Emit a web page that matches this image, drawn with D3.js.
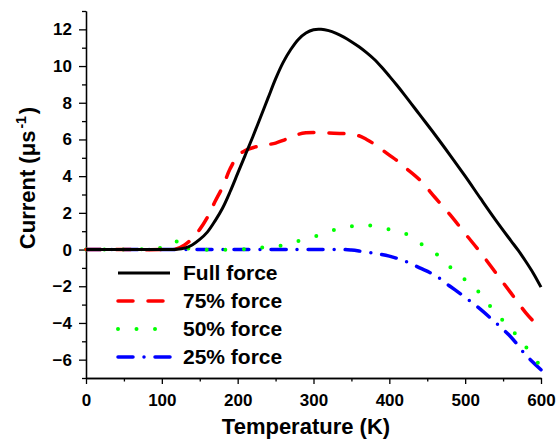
<!DOCTYPE html>
<html>
<head>
<meta charset="utf-8">
<script src="https://cdn.jsdelivr.net/npm/d3@7"></script>
<style>
    body { margin: 0; background: #fff; }
    text { font-family: "Liberation Sans", Arial, sans-serif; font-weight: bold; fill: #000; }
    .axis path, .axis line { stroke: #000; stroke-width: 1.3; }
    .axis text { font-size: 17px; }
</style>
</head>
<body>
<script>
(function () {

    //data: [temperature K, current]
    var fullForce = [[0, 0], [50, 0], [100, 0], [120, 0.02], [130, 0.08], [140, 0.25], [150, 0.55],
        [160, 0.95], [170, 1.55], [180, 2.25], [190, 3.15], [200, 4.15], [210, 5.15], [220, 6.15],
        [230, 7.2], [240, 8.25], [250, 9.3], [260, 10.2], [270, 10.9], [280, 11.45], [290, 11.8],
        [300, 11.98], [310, 12.0], [320, 11.93], [330, 11.78], [340, 11.58], [350, 11.33], [360, 11.05],
        [370, 10.73], [380, 10.37], [390, 9.93], [400, 9.45], [410, 8.95], [420, 8.43], [440, 7.35],
        [460, 6.27], [480, 5.15], [500, 4.0], [520, 2.8], [540, 1.62], [560, 0.5], [570, -0.05],
        [580, -0.65], [590, -1.3], [600, -2.05]];

    var force75 = [[0, 0], [50, 0], [100, 0], [120, 0.05], [130, 0.25], [140, 0.6], [150, 1.1],
        [160, 1.75], [170, 2.6], [180, 3.4], [190, 4.4], [200, 5.1], [210, 5.4], [220, 5.55],
        [230, 5.65], [240, 5.72], [250, 5.8], [260, 5.95], [270, 6.12], [280, 6.28], [290, 6.36],
        [300, 6.38], [320, 6.35], [340, 6.32], [360, 6.2], [370, 6.0], [380, 5.75], [390, 5.45],
        [400, 5.15], [410, 4.85], [420, 4.5], [440, 3.8], [460, 2.85], [480, 1.9], [500, 0.87],
        [520, -0.15], [540, -1.25], [560, -2.35], [580, -3.45], [600, -4.35]];

    var force50 = [[0, 0], [80, 0.02], [100, 0.1], [110, 0.15], [120, 0.45], [125, 0.6], [130, 0.15],
        [140, 0.02], [150, 0], [200, 0], [230, 0.1], [255, 0.2], [280, 0.47], [305, 0.75],
        [330, 1.1], [350, 1.27], [365, 1.32], [380, 1.28], [400, 1.1], [420, 0.9], [440, 0.35],
        [460, -0.17], [480, -0.95], [500, -1.65], [520, -2.4], [540, -3.45], [560, -4.3],
        [580, -5.3], [600, -6.4]];

    var force25 = [[0, 0], [100, 0], [200, 0], [300, 0], [340, 0], [350, -0.03], [360, -0.08],
        [380, -0.2], [400, -0.36], [420, -0.62], [440, -1.0], [460, -1.4], [480, -2.0],
        [500, -2.6], [520, -3.25], [540, -3.98], [560, -4.75], [580, -5.75], [600, -6.55]];

    var seriesNames = ["Full force", "75% force", "50% force", "25% force"];
    var xTicks = [0, 100, 200, 300, 400, 500, 600];
    var yTicks = [-6, -4, -2, 0, 2, 4, 6, 8, 10, 12];

    //line styles for each series
    var styles = [
        { color: "#000000", width: 3, dash: null, cap: "butt" },
        { color: "#ff0000", width: 3.5, dash: "15,15", cap: "round" },
        { color: "#00ff00", width: 4, dash: "0,18.5", cap: "round" },
        { color: "#0000ff", width: 3.5, dash: "15,11,0,11", cap: "round" }
    ];
    var allSeries = [fullForce, force75, force50, force25];

    var width = 556,
        height = 445;

    var svg = d3.select("body")
        .append("svg")
        .attr("width", width)
        .attr("height", height);

    var x = d3.scaleLinear()
        .domain([0, 600])
        .range([86, 541]);

    var y = d3.scaleLinear()
        .domain([-7, 13])
        .range([378, 11]);

    //minor ticks first, no labels
    svg.append("g")
        .attr("class", "axis")
        .attr("transform", "translate(0,378)")
        .call(d3.axisBottom(x).tickValues(d3.range(50, 600, 100)).tickSize(3.5).tickSizeOuter(0).tickFormat(""));

    svg.append("g")
        .attr("class", "axis")
        .attr("transform", "translate(86,0)")
        .call(d3.axisLeft(y).tickValues(d3.range(-7, 14, 2)).tickSize(4).tickSizeOuter(0).tickFormat(""));

    //major ticks
    svg.append("g")
        .attr("class", "axis")
        .attr("transform", "translate(0,378)")
        .call(d3.axisBottom(x).tickValues(xTicks).tickSize(6).tickSizeOuter(0).tickPadding(10));

    svg.append("g")
        .attr("class", "axis")
        .attr("transform", "translate(86,0)")
        .call(d3.axisLeft(y).tickValues(yTicks).tickSize(7).tickSizeOuter(0).tickPadding(7));

    //axis titles
    svg.append("text")
        .attr("x", 306)
        .attr("y", 434)
        .attr("text-anchor", "middle")
        .style("font-size", "22px")
        .text("Temperature (K)");

    var yTitle = svg.append("text")
        .attr("transform", "translate(35,178) rotate(-90)")
        .attr("text-anchor", "middle")
        .style("font-size", "22px");
    yTitle.append("tspan").text("Current (\u03bcs");
    yTitle.append("tspan").attr("dx", 2).attr("dy", -9).style("font-size", "14px").text("-1");
    yTitle.append("tspan").attr("dx", 2).attr("dy", 9).text(")");

    var line = d3.line()
        .x(function (d) { return x(d[0]); })
        .y(function (d) { return y(d[1]); })
        .curve(d3.curveCatmullRom.alpha(0.5));

    //draw the curves, back to front
    for (var i = allSeries.length - 1; i >= 0; i--) {
        svg.append("path")
            .datum(allSeries[i])
            .attr("fill", "none")
            .attr("stroke", styles[i].color)
            .attr("stroke-width", styles[i].width)
            .attr("stroke-dasharray", styles[i].dash)
            .attr("stroke-linecap", styles[i].cap)
            .attr("d", line);
    }

    //legend
    var legend = svg.append("g");
    seriesNames.forEach(function (name, i) {
        var ly = 273 + i * 28;
        legend.append("line")
            .attr("x1", 118)
            .attr("x2", 170)
            .attr("y1", ly)
            .attr("y2", ly)
            .attr("stroke", styles[i].color)
            .attr("stroke-width", styles[i].width)
            .attr("stroke-dasharray", styles[i].dash)
            .attr("stroke-linecap", styles[i].cap);
        legend.append("text")
            .attr("x", 183)
            .attr("y", ly + 7)
            .style("font-size", "21px")
            .text(name);
    });
})();
</script>
</body>
</html>
